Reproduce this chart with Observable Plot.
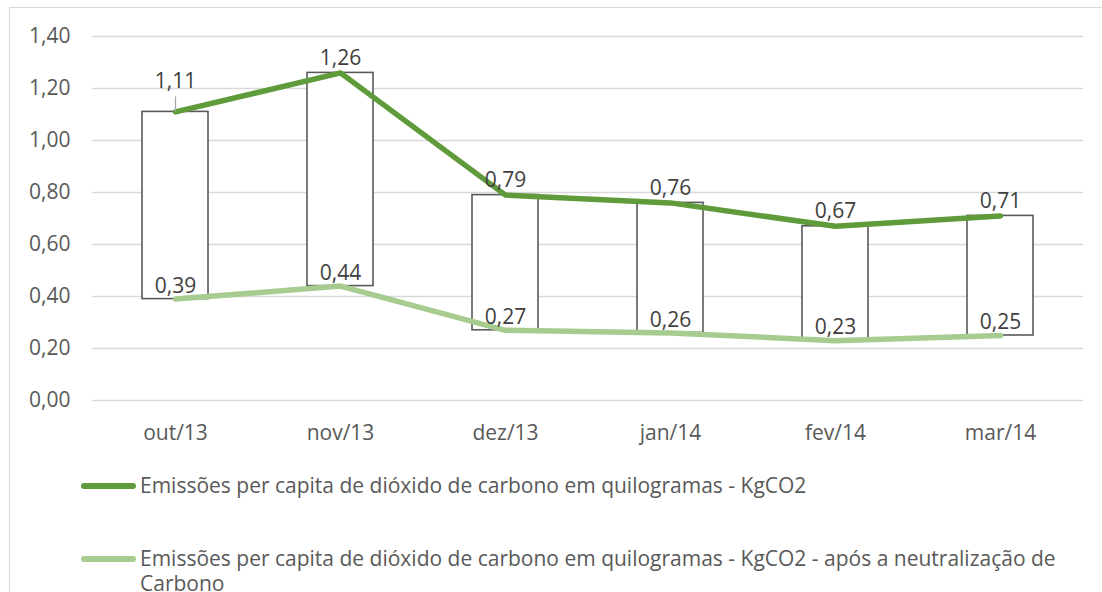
<!DOCTYPE html>
<html>
<head>
<meta charset="utf-8">
<script src="https://cdn.jsdelivr.net/npm/d3@7"></script>
<script src="https://cdn.jsdelivr.net/npm/@observablehq/plot@0.6"></script>
<style>
  html, body { margin: 0; padding: 0; background: #fff; }
  body { width: 1102px; height: 592px; overflow: hidden; position: relative; font-family: "Open Sans", sans-serif; }
  #frame { position: absolute; left: 9px; top: 7px; width: 1200px; height: 700px; border-top: 1.5px solid #d9d9d9; border-left: 1.5px solid #d9d9d9; }
  #chart { position: absolute; left: 0; top: 0; }
  .leg { position: absolute; left: 81px; width: 990px; display: flex; align-items: flex-start; font-size: 21px; color: #595959; line-height: 25px; }
  .leg .sw { flex: 0 0 auto; width: 55px; height: 5.5px; border-radius: 3px; margin-top: 10px; margin-right: 4px; }
  .leg .tx { flex: 1 1 auto; }
</style>
</head>
<body>
<div id="frame"></div>
<div id="chart"></div>
<div class="leg" style="top:473px"><span class="sw" id="sw1"></span><span class="tx" id="lab1"></span></div>
<div class="leg" style="top:546px"><span class="sw" id="sw2"></span><span class="tx" id="lab2"></span></div>
<script>
const months = ["out/13", "nov/13", "dez/13", "jan/14", "fev/14", "mar/14"];
const emissoes = [1.11, 1.26, 0.79, 0.76, 0.67, 0.71];
const neutralizadas = [0.39, 0.44, 0.27, 0.26, 0.23, 0.25];
const yTicks = [0, 0.2, 0.4, 0.6, 0.8, 1.0, 1.2, 1.4];
const seriesNames = [
  "Emissões per capita de dióxido de carbono em quilogramas - KgCO2",
  "Emissões per capita de dióxido de carbono em quilogramas - KgCO2 - após a neutralização de Carbono"
];
const colors = ["#5f9b3a", "#a6cc8f"];

const rows = months.map((m, i) => ({m, hi: emissoes[i], lo: neutralizadas[i]}));
const fmt = v => v.toFixed(2).replace(".", ",");

const chart = Plot.plot({
  width: 1102,
  height: 460,
  marginLeft: 92,
  marginRight: 19,
  marginTop: 36,
  marginBottom: 60,
  style: {fontFamily: "Open Sans, sans-serif", fontSize: "21px", color: "#595959", background: "transparent"},
  x: {type: "band", domain: months, paddingInner: 0.6, paddingOuter: 0.3, label: null, tickSize: 0, tickPadding: 25},
  y: {domain: [0, 1.4], label: null, ticks: yTicks, tickSize: 0, tickPadding: 22, tickFormat: fmt},
  marks: [
    Plot.gridY(yTicks, {stroke: "#d9d9d9", strokeOpacity: 1, strokeWidth: 1.5}),
    Plot.barY(rows, {x: "m", y1: "lo", y2: "hi", fill: "white", stroke: "#595959", strokeWidth: 1.6}),
    Plot.lineY(rows, {x: "m", y: "lo", stroke: colors[1], strokeWidth: 5.5, strokeLinejoin: "round", strokeLinecap: "round"}),
    Plot.lineY(rows, {x: "m", y: "hi", stroke: colors[0], strokeWidth: 5.5, strokeLinejoin: "round", strokeLinecap: "round"}),
    Plot.ruleX(rows.slice(0, 1), {x: "m", y1: "hi", y2: "hi", insetTop: -15, stroke: "#a6a6a6", strokeWidth: 1.2}),
    Plot.text(rows.slice(0, 1), {x: "m", y: "hi", text: d => fmt(d.hi), dy: -31, fontSize: 21, fill: "#404040"}),
    Plot.text(rows.slice(1), {x: "m", y: "hi", text: d => fmt(d.hi), dy: -15, fontSize: 21, fill: "#404040"}),
    Plot.text(rows, {x: "m", y: "lo", text: d => fmt(d.lo), dy: -13, fontSize: 21, fill: "#404040"})
  ]
});
document.getElementById("chart").appendChild(chart);

document.getElementById("sw1").style.background = colors[0];
document.getElementById("sw2").style.background = colors[1];
document.getElementById("lab1").textContent = seriesNames[0];
document.getElementById("lab2").textContent = seriesNames[1];
</script>
</body>
</html>
